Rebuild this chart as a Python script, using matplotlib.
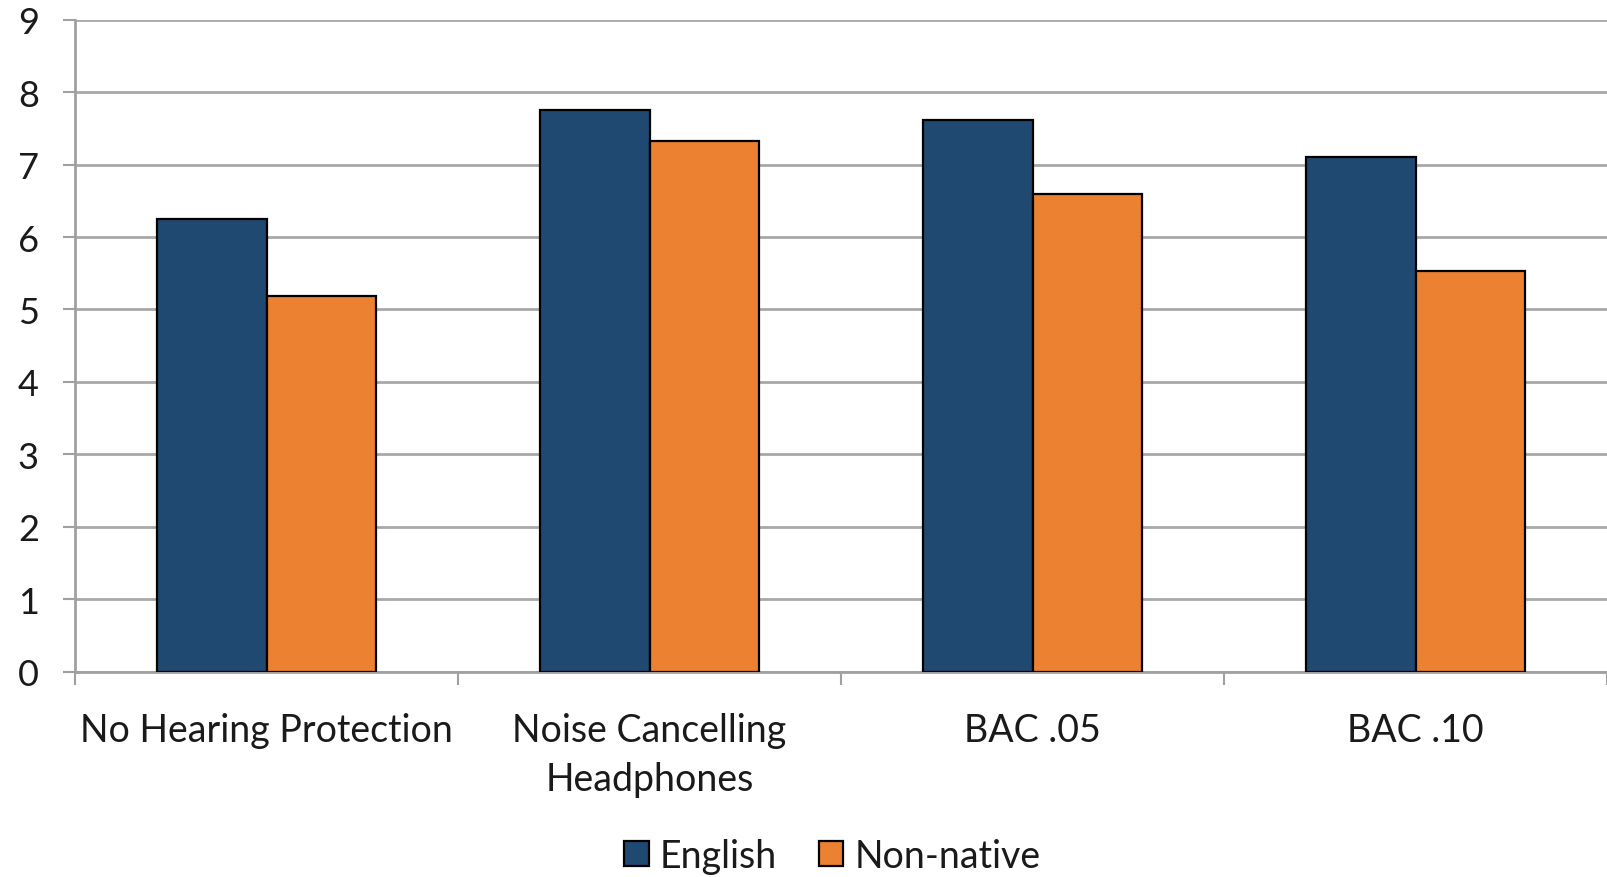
import numpy as np
import matplotlib
matplotlib.use("Agg")
import matplotlib.pyplot as plt

# scores by listening condition
conditions = ["No Hearing Protection", "Noise Cancelling\nHeadphones", "BAC .05", "BAC .10"]
english = [6.25, 7.76, 7.61, 7.10]
non_native = [5.19, 7.33, 6.60, 5.53]
y_ticks = [0, 1, 2, 3, 4, 5, 6, 7, 8, 9]

plt.rcParams['font.family'] = ['Lato', 'DejaVu Sans']

fig = plt.figure(figsize=(16.07, 8.78), dpi=100)
ax = fig.add_axes([75 / 1607, 1 - 672.7 / 878, 1 - 75 / 1607, (672.7 - 20.7) / 878])

x = np.arange(len(conditions))
w = 1 / 3.5
ax.bar(x - w / 2, english, w, color="#1F4970", edgecolor="black", linewidth=1.6,
       label="English", zorder=3)
ax.bar(x + w / 2, non_native, w, color="#EB8131", edgecolor="black", linewidth=1.6,
       label="Non-native", zorder=3)

ax.set_ylim(0, 9)
# last category runs off the right edge
ax.set_xlim(-0.5, (1607 - 75) / 386.1 - 0.5)
ax.set_yticks(y_ticks)
ax.set_yticklabels([str(v) for v in y_ticks], fontsize=26, color="#1a1a1a")
ax.yaxis.grid(True, color="#a8a8a8", linewidth=2, zorder=0)

# category labels at centres, tick marks at the boundaries
ax.set_xticks(x)
ax.set_xticklabels(conditions, fontsize=27, color="#1a1a1a", linespacing=1.45,
                   va="top")
ax.tick_params(axis="x", length=0, pad=29)
ax.set_xticks(np.arange(len(conditions) + 1) - 0.5, minor=True)
ax.tick_params(axis="x", which="minor", length=9, width=1.5, color="#a0a0a0")
ax.tick_params(axis="y", length=9, width=1.5, color="#a0a0a0", pad=17)

for s in ["top", "right"]:
    ax.spines[s].set_visible(False)
ax.spines["left"].set_color("#a0a0a0")
ax.spines["left"].set_linewidth(2)
ax.spines["bottom"].set_color("#a0a0a0")
ax.spines["bottom"].set_linewidth(2)

fig.legend(loc="center", bbox_to_anchor=(0.518, 1 - 857 / 878), ncol=2,
           frameon=False, fontsize=27, handlelength=0.65, handleheight=0.65,
           handletextpad=0.3, columnspacing=1.1, labelcolor="#1a1a1a")

fig.savefig("out.png", dpi=100)
